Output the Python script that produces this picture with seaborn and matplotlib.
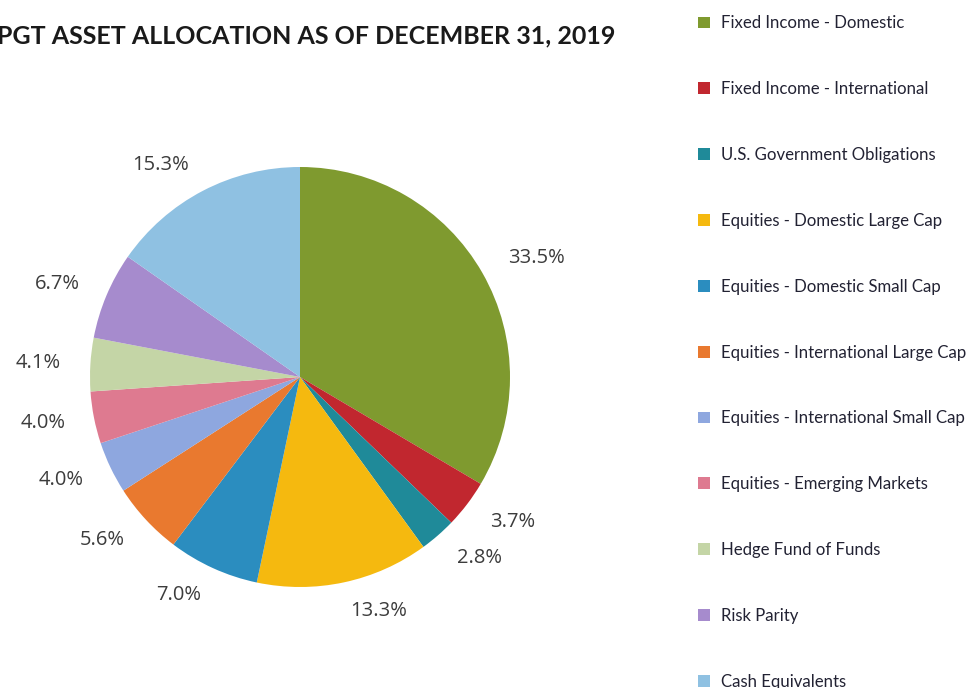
import matplotlib
matplotlib.use("Agg")
import matplotlib.pyplot as plt
import seaborn as sns

# asset allocation data
categories = ['Fixed Income - Domestic', 'Fixed Income - International', 'U.S. Government Obligations',
              'Equities - Domestic Large Cap', 'Equities - Domestic Small Cap',
              'Equities - International Large Cap', 'Equities - International Small Cap',
              'Equities - Emerging Markets', 'Hedge Fund of Funds', 'Risk Parity', 'Cash Equivalents']
values = [33.5, 3.7, 2.8, 13.3, 7.0, 5.6, 4.0, 4.0, 4.1, 6.7, 15.3]
colors = ['#7f9a2f', '#c1272f', '#1f8a99', '#f5b90f', '#2b8dbf', '#e9792f',
          '#8ea7df', '#de7a90', '#c4d5a6', '#a68bcd', '#8fc1e2']
title = 'PGT ASSET ALLOCATION AS OF DECEMBER 31, 2019'

sns.set_theme(style='white')
plt.rcParams['font.family'] = ['Lato', 'DejaVu Sans']

fig = plt.figure(figsize=(9.71, 6.88), dpi=100)
ax = fig.add_axes([90 / 971, 101 / 688, 420 / 971, 420 / 688])

palette = sns.color_palette(colors)
labels = ['%.1f%%' % v for v in values]
wedges, texts = ax.pie(values, colors=palette, startangle=90, counterclock=False,
                       labels=labels, labeldistance=1.14,
                       textprops={'fontsize': 14.5, 'color': '#3c3c3c', 'family': ['Open Sans', 'DejaVu Sans']},
                       wedgeprops={'linewidth': 0})
ax.set_xlim(-1, 1)
ax.set_ylim(-1, 1)
ax.set_aspect('equal')

fig.text(-3 / 971, 1 - 36 / 688, title, fontsize=18, fontweight='bold', color='#1a1a1a',
         va='center', ha='left')

leg = fig.legend(wedges, categories, loc='upper left', bbox_to_anchor=(690 / 971, 1 - 7 / 688),
                 frameon=False, labelspacing=2.965, handlelength=0.7,
                 handleheight=0.7, handletextpad=0.65, borderaxespad=0.0, borderpad=0.5,
                 prop={'family': ['Lato', 'DejaVu Sans'], 'size': 12.1})
for t in leg.get_texts():
    t.set_color('#222233')

fig.savefig('out.png', dpi=100)
